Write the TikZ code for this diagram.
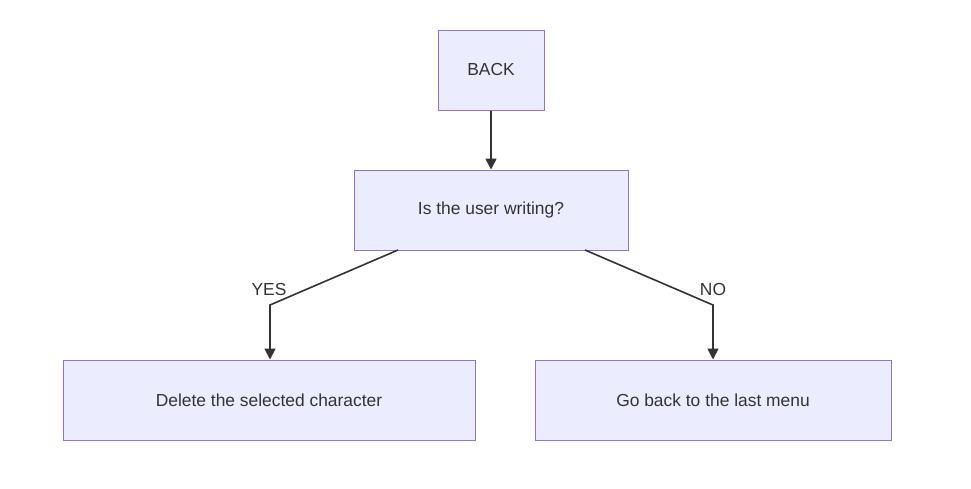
\documentclass[tikz,border=0pt]{standalone}
\usepackage{fontspec}
\setmainfont{Liberation Sans}
\usetikzlibrary{arrows.meta}
\definecolor{boxfill}{HTML}{ECECFF}
\definecolor{boxline}{HTML}{9370DB}
\definecolor{ink}{HTML}{333333}
\begin{document}
\begin{tikzpicture}[x=1pt,y=-1pt,
  box/.style={draw=boxline,fill=boxfill,line width=1pt,text=ink,font=\fontsize{17.4}{20}\selectfont,inner sep=0pt},
  link/.style={draw=ink,line width=1.6pt,-{Triangle[length=11pt,width=11pt]}},
  lbl/.style={text=ink,font=\fontsize{17.4}{20}\selectfont,inner sep=1pt}]
\useasboundingbox (0,0) rectangle (971,488);
\node[box,minimum width=106pt,minimum height=80pt] (back) at (491,70) {BACK};
\node[box,minimum width=274pt,minimum height=80pt] (q) at (491,210) {Is the user writing?};
\node[box,minimum width=412pt,minimum height=80pt] (del) at (269,400) {Delete the selected character};
\node[box,minimum width=356pt,minimum height=80pt] (go) at (713,400) {Go back to the last menu};
\coordinate (lb) at (270,305);
\coordinate (rb) at (713,305);
\draw[link] (back) -- (q);
\draw[link] (398,250) -- (lb) -- (del.north -| lb);
\draw[link] (585,250) -- (rb) -- (go.north -| rb);
\node[lbl] (yes) at (269,290) {YES};
\node[lbl] (no) at (713,290) {NO};
\end{tikzpicture}
\end{document}
